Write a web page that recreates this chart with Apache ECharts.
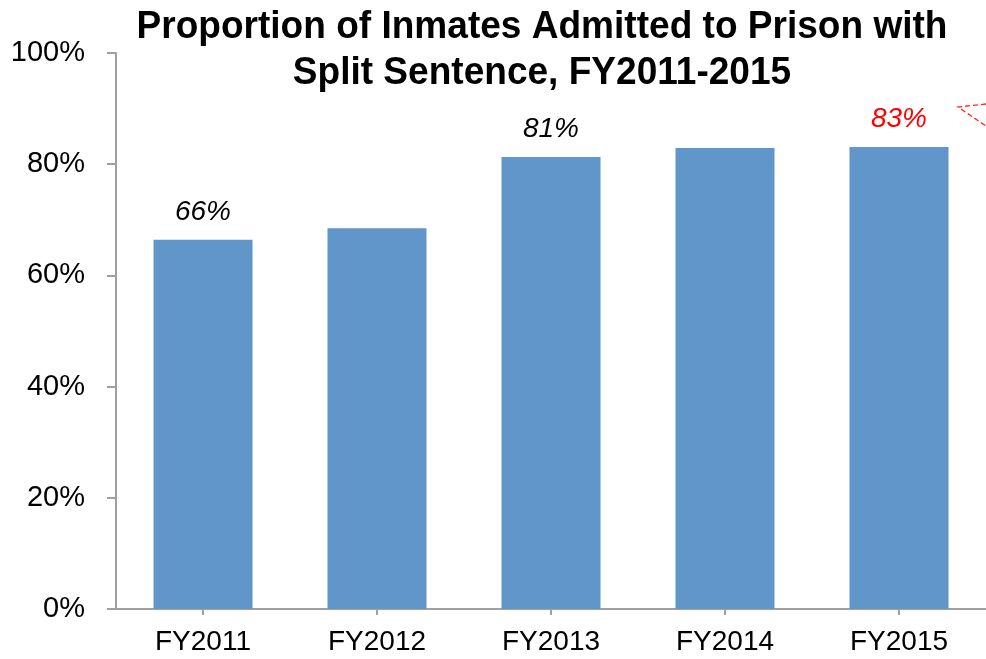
<!DOCTYPE html>
<html>
<head>
<meta charset="utf-8">
<script src="https://cdn.jsdelivr.net/npm/echarts@6/dist/echarts.min.js"></script>
<style>
  html, body { margin: 0; padding: 0; background: #fff; }
  #chart { width: 986px; height: 659px; }
</style>
</head>
<body>
<div id="chart"></div>
<script>
// Fiscal years and share of admissions with a split sentence (%)
const years = ['FY2011', 'FY2012', 'FY2013', 'FY2014', 'FY2015'];
const splitShare = [66.4, 68.5, 81.3, 82.9, 83.1];
// Which bars carry a value label, and the label colour for each
const labelled = [true, false, true, false, true];
const labelColors = ['#000000', '#000000', '#000000', '#000000', '#FF0000'];
const yTicks = [0, 20, 40, 60, 80, 100];
const titleLines = ['Proportion of Inmates Admitted to Prison with', 'Split Sentence, FY2011-2015'];

// Title is set in bold sans and narrowed horizontally to a condensed look
const TITLE_FONT_SIZE = 38;
const TITLE_FAMILY = '"Liberation Sans", Arial, sans-serif';
const TITLE_WIDTH = 811;
const measureCtx = document.createElement('canvas').getContext('2d');
measureCtx.font = 'bold ' + TITLE_FONT_SIZE + 'px ' + TITLE_FAMILY;
const titleScaleX = TITLE_WIDTH / measureCtx.measureText(titleLines[0]).width;

const chart = echarts.init(document.getElementById('chart'), null, { renderer: 'canvas' });

const barData = splitShare.map((v, i) => ({
  value: v,
  label: {
    show: labelled[i],
    color: labelColors[i]
  }
}));

chart.setOption({
  animation: false,
  backgroundColor: '#ffffff',
  grid: { left: 116, top: 53, bottom: 50, width: 876, containLabel: false },
  graphic: [
    {
      type: 'text',
      x: 542,
      y: 5,
      scaleX: titleScaleX,
      z: 10,
      style: {
        text: titleLines.join('\n'),
        fontFamily: TITLE_FAMILY,
        fontWeight: 'bold',
        fontSize: TITLE_FONT_SIZE,
        lineHeight: 46,
        align: 'center',
        verticalAlign: 'top',
        fill: '#000000'
      }
    },
    {
      type: 'polyline',
      shape: { points: [[986, 104], [958, 107], [986, 126]] },
      style: { stroke: '#FF2A1A', lineWidth: 1.3, lineDash: [5, 3], fill: null }
    }
  ],
  xAxis: {
    type: 'category',
    data: years,
    axisLine: { show: true, lineStyle: { color: '#A0A0A0', width: 2 } },
    axisTick: { show: true, alignWithLabel: true, length: 6, lineStyle: { color: '#A0A0A0', width: 2 } },
    axisLabel: {
      color: '#000000',
      fontSize: 28,
      fontFamily: '"Liberation Sans", Arial, sans-serif',
      margin: 19
    }
  },
  yAxis: {
    type: 'value',
    min: yTicks[0],
    max: yTicks[yTicks.length - 1],
    interval: 20,
    splitLine: { show: false },
    axisLine: { show: true, lineStyle: { color: '#A0A0A0', width: 2 } },
    axisTick: { show: true, length: 9, lineStyle: { color: '#A0A0A0', width: 2 } },
    axisLabel: {
      color: '#000000',
      fontSize: 29,
      fontFamily: '"Liberation Sans", Arial, sans-serif',
      margin: 31,
      formatter: v => v + '%'
    }
  },
  series: [{
    type: 'bar',
    data: barData,
    barWidth: 99,
    itemStyle: { color: '#6096CA' },
    label: {
      position: 'top',
      distance: 14,
      fontSize: 28,
      fontStyle: 'italic',
      fontFamily: '"Liberation Sans", Arial, sans-serif',
      formatter: p => Math.round(p.value) + '%'
    }
  }]
});
</script>
</body>
</html>
